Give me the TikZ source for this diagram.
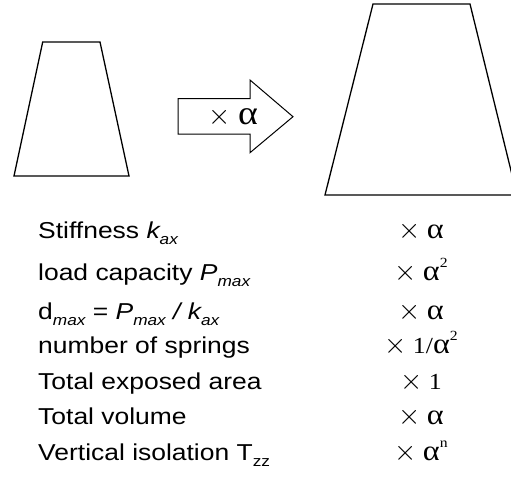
\documentclass[tikz,border=0pt]{standalone}
\usepackage{fontspec}
\setmainfont{Liberation Serif}
\newfontfamily\arialf[FakeStretch=1.15]{Liberation Sans}
\newfontfamily\timesf[FakeStretch=1.12]{Liberation Serif}
\newcommand\sbs[1]{\raisebox{-0.28em}{\fontsize{15}{15}\selectfont #1}}
\newcommand\sps[1]{\raisebox{0.55em}{\fontsize{14}{14}\selectfont #1}}
\newcommand\al{\scalebox{1.25}{α}}
\newcommand\tms{\scalebox{1.15}{$\times$}}
\begin{document}
\begin{tikzpicture}[x=1pt,y=-1pt,
  shape line/.style={line width=1.3pt, line join=miter},
  lefttext/.style={anchor=base west, inner sep=0pt, font=\arialf\fontsize{23}{23}\selectfont},
  righttext/.style={anchor=base, inner sep=0pt, font=\timesf\fontsize{23}{23}\selectfont},
  arrowlabel/.style={inner sep=0pt, font=\timesf\fontsize{27}{27}\selectfont}]
\useasboundingbox (0,0) rectangle (511,477);
\clip (0,0) rectangle (511,477);
% small trapezoid
\draw[shape line] (42.7,42) -- (100,42) -- (129,176) -- (14,176) -- cycle;
% big trapezoid
\draw[shape line] (373,4) -- (470,4) -- (517,195) -- (325,195) -- cycle;
% block arrow
\draw[line width=1pt] (178,98.7) -- (250,98.7) -- (250,80) -- (293,116.7) -- (250,152.7) -- (250,134) -- (178,134) -- cycle;
\node[arrowlabel] (lab) at (233,117) {\tms{} \al};
% left column
\node[lefttext] (r1) at (38,238) {Stiffness {\itshape k}\sbs{\itshape ax}};
\node[lefttext] (r2) at (38,280) {load capacity {\itshape P}\sbs{\itshape max}};
\node[lefttext] (r3) at (38,319) {d\sbs{\itshape max} = {\itshape P}\sbs{\itshape max} {\itshape / k}\sbs{\itshape ax}};
\node[lefttext] (r4) at (38,353) {number of springs};
\node[lefttext] (r5) at (38,389) {Total exposed area};
\node[lefttext] (r6) at (38,424) {Total volume};
\node[lefttext] (r7) at (38,460) {Vertical isolation T\sbs{zz}};
% right column
\node[righttext] (s1) at (421,238) {\tms{} \al};
\node[righttext] (s2) at (421,280) {\tms{} \al\sps{2}};
\node[righttext] (s3) at (421,319) {\tms{} \al};
\node[righttext] (s4) at (421,353) {\tms{} 1/\al\sps{2}};
\node[righttext] (s5) at (421,389) {\tms{} 1};
\node[righttext] (s6) at (421,424) {\tms{} \al};
\node[righttext] (s7) at (421,460) {\tms{} \al\sps{n}};
\end{tikzpicture}
\end{document}
